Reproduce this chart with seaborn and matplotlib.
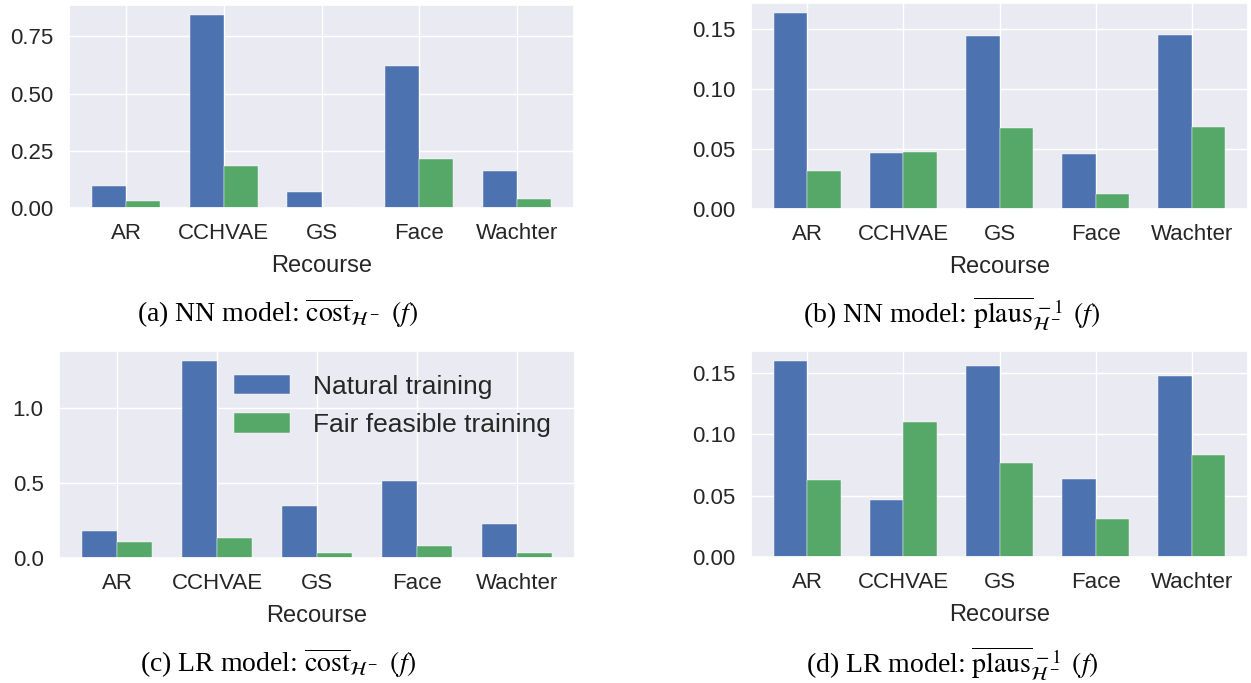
import matplotlib
matplotlib.use("Agg")
import matplotlib.pyplot as plt
import seaborn as sns
import pandas as pd
from matplotlib.ticker import FormatStrFormatter

# ---- data ----
methods = ["AR", "CCHVAE", "GS", "Face", "Wachter"]
series_names = ["Natural training", "Fair feasible training"]

nn_cost_natural = [0.096, 0.845, 0.070, 0.622, 0.163]
nn_cost_fair = [0.032, 0.185, 0.002, 0.212, 0.039]

nn_plaus_natural = [0.1639, 0.0471, 0.1442, 0.0460, 0.1456]
nn_plaus_fair = [0.0316, 0.0477, 0.0679, 0.0128, 0.0685]

lr_cost_natural = [0.180, 1.313, 0.347, 0.511, 0.224]
lr_cost_fair = [0.107, 0.133, 0.036, 0.082, 0.033]

lr_plaus_natural = [0.160, 0.0466, 0.156, 0.0639, 0.148]
lr_plaus_fair = [0.0625, 0.110, 0.0766, 0.0311, 0.0831]

captions = [
    r"(a) NN model: $\overline{\mathrm{cost}}_{\mathcal{H}^-}\;\,(f)$",
    r"(b) NN model: $\overline{\mathrm{plaus}}^{\,-1}_{\mathcal{H}^-}\;\,(f)$",
    r"(c) LR model: $\overline{\mathrm{cost}}_{\mathcal{H}^-}\;\,(f)$",
    r"(d) LR model: $\overline{\mathrm{plaus}}^{\,-1}_{\mathcal{H}^-}\;\,(f)$",
]
yticks_list = [[0, 0.25, 0.5, 0.75], [0, 0.05, 0.10, 0.15], [0, 0.5, 1.0], [0, 0.05, 0.10, 0.15]]
yfmt_list = ["%.2f", "%.2f", "%.1f", "%.2f"]

colors = ["#4C72B0", "#55A868"]

sns.set_theme(style="darkgrid")
plt.rcParams["font.family"] = ["Liberation Sans", "DejaVu Sans"]
plt.rcParams["mathtext.fontset"] = "stix"

W, H = 1251, 683
fig = plt.figure(figsize=(W / 100, H / 100), dpi=100)


def box(l, r, t, b):
    return [l / W, (H - b) / H, (r - l) / W, (b - t) / H]


boxes = [box(69, 574, 5, 208), box(751, 1248, 3, 209),
         box(59, 575, 351, 558), box(751, 1248, 351, 557)]
cap_pos = [(278, 313), (952, 313), (278, 663), (952, 663)]

panels = [
    (nn_cost_natural, nn_cost_fair),
    (nn_plaus_natural, nn_plaus_fair),
    (lr_cost_natural, lr_cost_fair),
    (lr_plaus_natural, lr_plaus_fair),
]

for i, (nat, fair) in enumerate(panels):
    ax = fig.add_axes(boxes[i])
    df = pd.DataFrame({
        "Recourse": methods * 2,
        "value": list(nat) + list(fair),
        "Training": [series_names[0]] * len(methods) + [series_names[1]] * len(methods),
    })
    sns.barplot(data=df, x="Recourse", y="value", hue="Training", order=methods,
                hue_order=series_names, palette=colors, width=0.7, errorbar=None,
                saturation=1, ax=ax, legend=(i == 2), linewidth=0.3, edgecolor="white")
    ax.xaxis.grid(True)
    ax.yaxis.grid(True)
    ax.set_xlim(-0.585, 4.585)
    ax.set_yticks(yticks_list[i])
    ax.yaxis.set_major_formatter(FormatStrFormatter(yfmt_list[i]))
    ax.set_ylabel("")
    ax.set_xlabel("Recourse", fontsize=17, color=".15", labelpad=8)
    ax.tick_params(axis="both", labelsize=16, pad=11, length=0, colors=".15")
    if i == 2:
        sns.move_legend(ax, "upper right", title=None, frameon=False, fontsize=19,
                        handlelength=2.1, handleheight=0.75, labelspacing=0.55,
                        handletextpad=0.9)
    fig.text(cap_pos[i][0] / W, 1 - cap_pos[i][1] / H, captions[i], ha="center", va="center",
             fontsize=20, family="Liberation Serif", color="black")

fig.savefig("out.png", dpi=100)
